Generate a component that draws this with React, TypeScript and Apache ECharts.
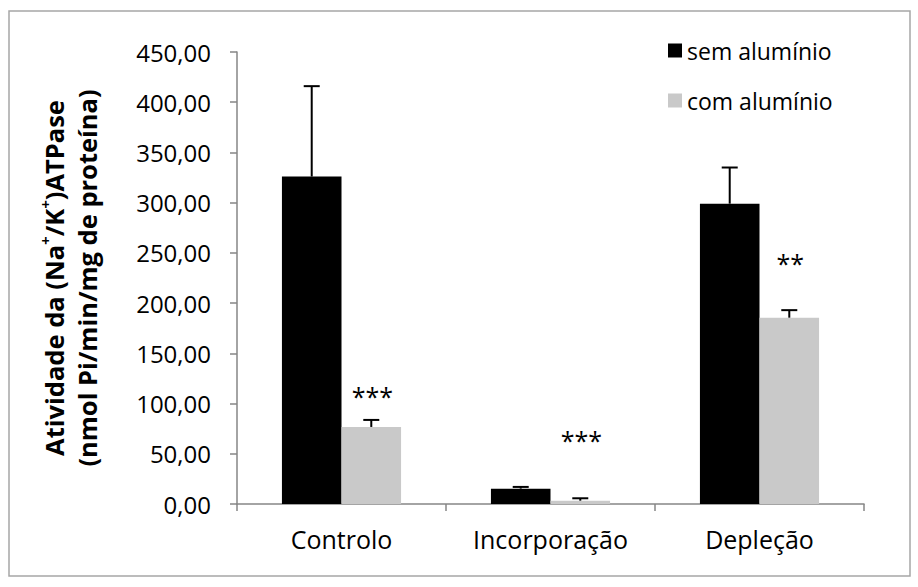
import React, { useEffect, useRef } from 'react';
import * as echarts from 'echarts';

const categories = ['Controlo', 'Incorporação', 'Depleção'];
const seriesNames = ['sem alumínio', 'com alumínio'];
const semAluminio = [326, 15.3, 299];
const semAluminioErr = [90, 1.7, 36];
const comAluminio = [76.7, 3.3, 185.5];
const comAluminioErr = [7, 2.4, 7.5];
const significance = ['***', '***', '**'];
const significanceY = [110, 66, 242];
const yMin = 0;
const yMax = 450;
const yInterval = 50;

const FONT = "'Open Sans', sans-serif";
const CAT_GAP = 0.43;

export default function App() {
  const ref = useRef<HTMLDivElement>(null);
  useEffect(() => {
    if (!ref.current) return;
    const chart = echarts.init(ref.current, null, { renderer: 'svg' });

    const errRender = (side: number) => (params: any, api: any) => {
      const idx = api.value(0);
      const v = api.value(1);
      const e = api.value(2);
      const catW = api.size([1, 0])[0];
      const bw = (catW * (1 - CAT_GAP)) / 2;
      const cx = api.coord([idx, 0])[0] + side * bw / 2;
      const yBase = api.coord([idx, v])[1];
      const yTop = api.coord([idx, v + e])[1];
      const style = { stroke: '#000', lineWidth: 2 };
      return {
        type: 'group',
        children: [
          { type: 'line', shape: { x1: cx, y1: yBase, x2: cx, y2: yTop }, style },
          { type: 'line', shape: { x1: cx - 8, y1: yTop, x2: cx + 8, y2: yTop }, style },
        ],
      };
    };

    const sigRender = (params: any, api: any) => {
      const idx = api.value(0);
      const catW = api.size([1, 0])[0];
      const bw = (catW * (1 - CAT_GAP)) / 2;
      const cx = api.coord([idx, 0])[0] + bw / 2;
      const y = api.coord([idx, api.value(1)])[1];
      return {
        type: 'text',
        x: cx + 1,
        y: y + 2,
        style: {
          text: significance[params.dataIndex],
          fontSize: 25,
          fontFamily: FONT,
          fill: '#000',
          align: 'center',
          verticalAlign: 'middle',
        },
      };
    };

    chart.setOption({
      animation: false,
      backgroundColor: '#fff',
      textStyle: { fontFamily: FONT },
      graphic: [
        {
          type: 'rect',
          shape: { x: 9, y: 11, width: 901, height: 565 },
          style: { fill: 'none', stroke: '#a6a6a6', lineWidth: 1.5 },
          silent: true,
        },
      ],
      legend: {
        data: seriesNames,
        orient: 'vertical',
        left: 663,
        top: 34,
        icon: 'rect',
        itemWidth: 14,
        itemHeight: 14,
        itemGap: 27,
        textStyle: { fontSize: 23, color: '#000', fontFamily: FONT, padding: [0, 0, 0, 0] },
      },
      grid: { left: 237, right: 54, top: 52, bottom: 83 },
      xAxis: {
        type: 'category',
        data: categories,
        axisLine: { lineStyle: { color: '#868686', width: 1.5 } },
        axisTick: { show: true, length: 7, lineStyle: { color: '#868686', width: 1.5 } },
        axisLabel: { fontSize: 25, color: '#000', margin: 22, fontFamily: FONT, interval: 0, hideOverlap: false },
      },
      yAxis: {
        type: 'value',
        min: yMin,
        max: yMax,
        interval: yInterval,
        splitLine: { show: false },
        axisLine: { show: true, lineStyle: { color: '#868686', width: 1.5 } },
        axisTick: { show: true, length: 7, lineStyle: { color: '#868686', width: 1.5 } },
        axisLabel: {
          fontSize: 24,
          color: '#000',
          margin: 26,
          fontFamily: FONT,
          formatter: (v: number) => v.toFixed(2).replace('.', ','),
        },
        name: '{b|Atividade da (Na}{s|+}{b|/K}{s|+}{b|)ATPase}\n{b|(nmol Pi/min/mg de proteína)}',
        nameLocation: 'middle',
        nameRotate: 90,
        nameGap: 134,
        nameTextStyle: {
          lineHeight: 33,
          rich: {
            b: { fontSize: 25.5, fontWeight: 'bold', fontFamily: FONT, color: '#000', lineHeight: 33 },
            s: { fontSize: 15, fontWeight: 'bold', fontFamily: FONT, color: '#000', verticalAlign: 'top', lineHeight: 33 },
          },
        },
      },
      series: [
        {
          name: seriesNames[0],
          type: 'bar',
          data: semAluminio,
          barGap: '0%',
          barCategoryGap: CAT_GAP * 100 + '%',
          itemStyle: { color: '#000000' },
        },
        {
          name: seriesNames[1],
          type: 'bar',
          data: comAluminio,
          barGap: '0%',
          barCategoryGap: CAT_GAP * 100 + '%',
          itemStyle: { color: '#c9c9c9' },
        },
        {
          type: 'custom',
          z: 5,
          renderItem: errRender(-1),
          data: semAluminio.map((v, i) => [i, v, semAluminioErr[i]]),
          encode: { x: 0, y: 1 },
          silent: true,
        },
        {
          type: 'custom',
          z: 5,
          renderItem: errRender(1),
          data: comAluminio.map((v, i) => [i, v, comAluminioErr[i]]),
          encode: { x: 0, y: 1 },
          silent: true,
        },
        {
          type: 'custom',
          z: 6,
          renderItem: sigRender,
          data: significanceY.map((v, i) => [i, v]),
          encode: { x: 0, y: 1 },
          silent: true,
        },
      ],
    });
    return () => chart.dispose();
  }, []);
  return <div ref={ref} style={{ position: 'fixed', left: 0, top: 0, width: 918, height: 587 }} />;
}
